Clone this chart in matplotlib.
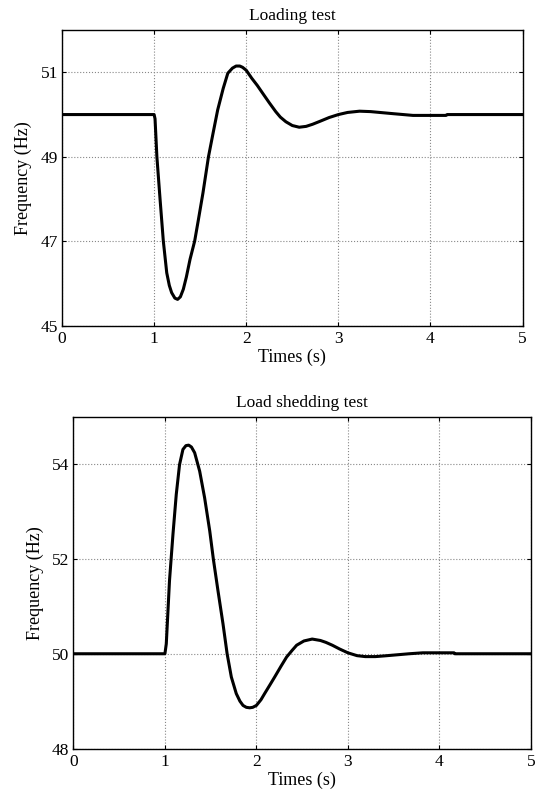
import matplotlib
matplotlib.use('Agg')
import matplotlib.pyplot as plt

plt.rcParams['font.family'] = 'Liberation Serif'

# Loading test
t_load = [0, 1.0, 1.01, 1.03, 1.065, 1.10, 1.137, 1.165, 1.19, 1.225, 1.255, 1.285, 1.317,
          1.35, 1.39, 1.44, 1.48, 1.53, 1.59, 1.64, 1.69, 1.75, 1.80, 1.85, 1.89, 1.93, 1.96,
          2.0, 2.06, 2.12, 2.18, 2.25, 2.32, 2.37, 2.43, 2.50, 2.575, 2.65, 2.72, 2.80, 2.90,
          3.0, 3.1, 3.23, 3.35, 3.45, 3.6, 3.81, 4.17, 4.18, 5.0]
f_load = [50, 50, 49.9, 49.0, 47.98, 47.0, 46.25, 45.95, 45.78, 45.65, 45.62, 45.68, 45.86,
          46.15, 46.57, 47.0, 47.5, 48.14, 49.0, 49.56, 50.11, 50.62, 50.98, 51.10, 51.15, 51.15, 51.12,
          51.05, 50.86, 50.69, 50.50, 50.28, 50.07, 49.94, 49.83, 49.74, 49.70, 49.72, 49.77, 49.84, 49.93,
          50.0, 50.05, 50.08, 50.07, 50.05, 50.02, 49.98, 49.98, 50.0, 50.0]

# Load shedding test
t_shed = [0, 1.0, 1.015, 1.05, 1.088, 1.124, 1.16, 1.197, 1.23, 1.26, 1.29, 1.325,
          1.38, 1.434, 1.49, 1.53, 1.58, 1.635, 1.68, 1.726, 1.78, 1.82, 1.854, 1.89, 1.927,
          1.96, 2.0, 2.05, 2.09, 2.15, 2.20, 2.27, 2.33, 2.39, 2.44, 2.52, 2.61, 2.70, 2.76,
          2.83, 2.91, 3.0, 3.1, 3.19, 3.30, 3.40, 3.49, 3.67, 3.82, 4.16, 4.17, 5.0]
f_shed = [50, 50, 50.21, 51.54, 52.52, 53.36, 53.99, 54.31, 54.39, 54.40, 54.36, 54.24,
          53.85, 53.29, 52.59, 51.99, 51.33, 50.63, 50.0, 49.51, 49.16, 49.0, 48.91, 48.87, 48.86,
          48.87, 48.91, 49.03, 49.16, 49.35, 49.51, 49.74, 49.93, 50.07, 50.18, 50.27, 50.31, 50.28, 50.24,
          50.18, 50.10, 50.02, 49.96, 49.94, 49.94, 49.955, 49.97, 50.0, 50.02, 50.02, 50.0, 50.0]

x_ticks = [0, 1, 2, 3, 4, 5]

fig = plt.figure(figsize=(5.4, 7.94), dpi=100)
ax1 = fig.add_axes([0.1148, 0.590, 0.853, 0.372])
ax2 = fig.add_axes([0.136, 0.0572, 0.847, 0.418])


def style(ax, ylim, yticks, title):
    ax.set_xlim(0, 5)
    ax.set_ylim(*ylim)
    ax.set_xticks(x_ticks)
    ax.set_yticks(yticks)
    ax.grid(True, color='#888888', linestyle=':', linewidth=0.8)
    ax.tick_params(direction='in', top=True, right=True, length=3,
                   labelsize=12.5, width=0.8)
    ax.tick_params(axis='x', pad=4)
    ax.tick_params(axis='y', pad=3)
    for s in ax.spines.values():
        s.set_linewidth(1.0)
    ax.set_title(title, fontsize=12.5, pad=7)
    ax.set_xlabel('Times (s)', fontsize=13, labelpad=1)
    ax.set_ylabel('Frequency (Hz)', fontsize=13, labelpad=6)


ax1.plot(t_load, f_load, color='black', linewidth=2.2)
style(ax1, (45, 52), [45, 47, 49, 51], 'Loading test')

ax2.plot(t_shed, f_shed, color='black', linewidth=2.2)
style(ax2, (48, 55), [48, 50, 52, 54], 'Load shedding test')

fig.savefig('out.png', dpi=100)
